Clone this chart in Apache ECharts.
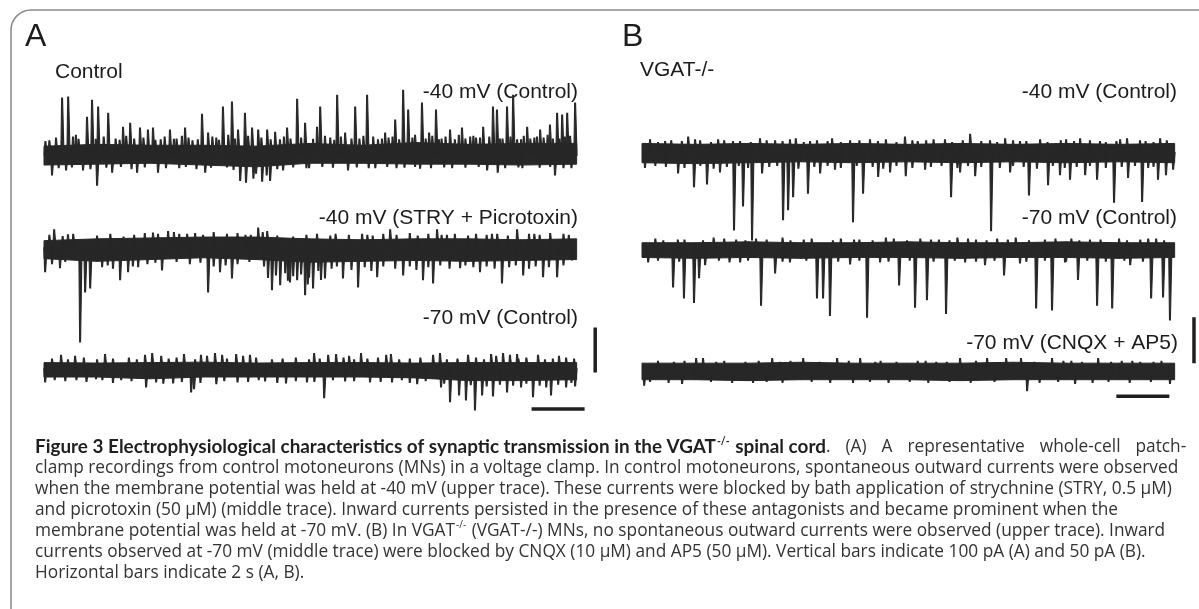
<!DOCTYPE html>
<html lang="en">
<head>
  <meta charset="utf-8">
  <title>VGAT figure 3</title>
  <script src="https://cdn.jsdelivr.net/npm/echarts@6/dist/echarts.min.js"></script>
</head>
<body style="margin: 0; background: #fff">
  <div id="container" style="width: 1199px; height: 609px"></div>
  <script type="text/javascript">
// time in s, current in pA (relative to each trace's own baseline)
var envTime = [0, 2, 4, 6, 8, 10, 12, 14, 16, 18, 20.1];

// baselines of the three traces in each panel (pA on the panel axis)
var baseA = [-167, -373, -642];
var baseB = [-79, -185, -317];

// noise band (upper / lower edge) read every 2 s
var a1Hi = [20, 24, 22, 22, 20, 26, 22, 28, 24, 26, 26];
var a1Lo = [-22, -20, -18, -22, -26, -18, -18, -20, -20, -22, -20];
var a2Hi = [16, 20, 22, 24, 24, 20, 18, 20, 20, 18, 20];
var a2Lo = [-24, -30, -26, -22, -26, -32, -30, -28, -30, -28, -26];
var a3Hi = [14, 13, 14, 15, 13, 14, 14, 13, 14, 14, 14];
var a3Lo = [-18, -18, -22, -18, -18, -18, -18, -20, -26, -26, -24];
var b1Hi = [10, 9, 10, 9, 10, 9, 10, 9, 10, 9, 10];
var b1Lo = [-11, -12, -11, -10, -11, -10, -11, -10, -11, -10, -11];
var b2Hi = [8, 8, 9, 8, 8, 9, 8, 8, 9, 8, 8];
var b2Lo = [-8, -9, -8, -9, -8, -8, -9, -8, -8, -9, -8];
var b3Hi = [9, 9, 9, 10, 9, 9, 9, 10, 9, 9, 9];
var b3Lo = [-9, -9, -10, -9, -9, -9, -10, -9, -9, -9, -9];

// synaptic events [time, peak]
var a1Spikes = [
  [0.2, 32], [0.3, -44], [0.68, 127], [0.83, -33], [0.91, 129], [1.09, 40], [1.3, 35], [1.47, -33],
  [1.62, 84], [1.81, 122], [2.0, -67], [2.04, 107], [2.42, 93], [2.57, -38], [2.7, 36], [2.98, 62],
  [3.25, 71], [3.51, -38], [3.62, 60], [3.92, 56], [4.11, 60], [4.3, -38], [4.4, 34], [4.75, 56],
  [5.0, 36], [5.1, -28], [5.32, 60], [5.6, 32], [5.96, 91], [6.08, -38], [6.19, 49], [6.5, 38],
  [6.75, 107], [7.09, 118], [7.32, 56], [7.4, -56], [7.58, 93], [7.62, -60], [7.85, 60], [7.9, -51],
  [8.08, 56], [8.23, -58], [8.42, 56], [8.53, -56], [8.72, 51], [8.9, 34], [9.02, -33], [9.17, 60],
  [9.3, 36], [9.55, 124], [9.85, 71], [10.0, -28], [10.3, 62], [10.42, 107], [10.8, 38], [11.06, 133],
  [11.36, 49], [11.47, -33], [11.6, 36], [11.74, 107], [12.19, 133], [12.25, -28], [12.42, 40], [12.6, 34],
  [12.87, 49], [13.0, 38], [13.25, 78], [13.3, -28], [13.55, 144], [13.74, 100], [14.0, 44], [14.19, -29],
  [14.26, 116], [14.53, 49], [14.79, 100], [15.0, 36], [15.32, 56], [15.4, -28], [15.5, 34], [15.77, 60],
  [16.08, 40], [16.3, 38], [16.57, 62], [16.72, -33], [16.94, 107], [17.09, 100], [17.12, -38], [17.3, 36],
  [17.47, 107], [17.7, 133], [18.0, 34], [18.05, -28], [18.23, 62], [18.5, 38], [18.72, 56], [19.09, 67],
  [19.2, 36], [19.28, -44], [19.36, 93], [19.55, 89], [19.74, 93], [19.9, -28], [20.04, 116]
];
var a1Minor = [
  [0.05, 30], [0.45, 38], [1.2, 44], [1.95, 35], [2.25, 40], [2.85, 33], [3.1, 42], [3.4, 36],
  [3.75, 38], [4.2, 33], [4.55, 40], [4.9, 35], [5.2, 42], [5.45, 38], [5.8, 34], [6.35, 40],
  [6.6, 33], [6.95, 44], [7.2, 36], [7.7, 42], [8.2, 38], [8.55, 34], [9.05, 40], [9.7, 38],
  [10.15, 35], [10.6, 42], [10.95, 33], [11.2, 40], [11.9, 36], [12.05, 42], [12.75, 36], [13.15, 40],
  [13.4, 34], [13.9, 38], [14.4, 36], [14.65, 42], [14.9, 34], [15.15, 40], [15.65, 44], [15.9, 36],
  [16.2, 42], [16.45, 38], [16.8, 40], [17.2, 36], [17.6, 40], [17.85, 34], [18.1, 42], [18.35, 36],
  [18.6, 40], [18.85, 38], [19.0, 44], [19.45, 36], [19.65, 40], [19.85, 42],
  [0.55, -28], [1.05, -26], [1.75, -30], [2.35, -27], [2.9, -25], [3.3, -30], [3.8, -26], [4.6, -28],
  [5.35, -25], [5.75, -30], [6.3, -27], [6.9, -26], [7.15, -32], [8.0, -40], [8.4, -44], [8.8, -30],
  [9.4, -26], [9.9, -28], [10.5, -25], [10.9, -27], [11.8, -26], [12.5, -28], [12.95, -25], [13.6, -27],
  [14.0, -25], [14.6, -28], [15.1, -26], [15.9, -27], [16.4, -25], [17.4, -28], [17.9, -26], [18.7, -27],
  [19.1, -25], [19.6, -28]
];
var a2Spikes = [
  [0.04, -53], [0.38, 40], [0.6, -44], [0.9, 29], [1.36, -209], [1.55, -98], [1.74, -89], [2.19, -42],
  [2.87, -71], [3.17, -53], [3.55, -42], [4.11, 33], [4.45, -49], [4.68, 36], [5.4, 30], [6.19, -98],
  [6.64, -53], [7.09, -67], [7.6, 28], [8.08, 44], [8.42, 36], [8.6, -93], [8.91, -82], [9.28, -76],
  [9.55, -71], [9.85, -104], [10.15, -89], [10.6, -67], [11.0, 30], [11.28, -67], [11.85, -87], [12.2, 28],
  [12.57, -64], [13.06, 40], [13.55, -60], [14.3, -71], [14.68, -78], [14.83, 40], [15.2, 28], [15.7, -44],
  [16.45, -53], [16.9, 30], [17.28, -78], [17.85, 40], [18.08, -60], [18.5, 30], [18.83, -64], [19.36, -64],
  [19.6, 30], [19.92, -27]
];
var a2Minor = [
  [0.2, 28], [0.7, 25], [1.1, 30], [2.0, 26], [2.5, 30], [3.0, 24], [3.4, 28], [3.8, 32],
  [4.3, 30], [4.9, 34], [5.1, 30], [5.7, 32], [6.0, 28], [6.4, 34], [6.9, 30], [7.3, 32],
  [7.8, 28], [8.25, 34], [8.8, 26], [9.4, 24], [9.9, 28], [10.3, 30], [10.8, 26], [11.5, 28],
  [12.0, 30], [12.4, 26], [12.8, 30], [13.3, 28], [13.8, 32], [14.1, 26], [14.5, 30], [15.0, 28],
  [15.5, 30], [16.0, 26], [16.3, 30], [16.7, 28], [17.1, 30], [17.5, 26], [18.3, 30], [18.7, 28],
  [19.1, 32], [19.8, 28],
  [0.3, -35], [0.8, -30], [2.4, -38], [2.6, -45], [3.35, -40], [3.9, -35], [4.2, -32], [5.0, -30],
  [5.5, -35], [5.9, -32], [6.4, -40], [6.85, -38], [7.3, -35], [7.75, -30], [8.3, -40], [8.45, -66],
  [8.75, -60], [9.1, -55], [9.2, -72], [9.4, -62], [9.7, -58], [9.95, -80], [10.0, -65], [10.35, -50],
  [10.45, -70], [10.85, -45], [11.05, -40], [11.6, -48], [12.1, -42], [12.35, -50], [12.8, -40], [13.25, -45],
  [13.8, -40], [14.05, -48], [14.5, -42], [14.95, -38], [15.3, -45], [15.9, -38], [16.2, -42], [16.7, -40],
  [17.0, -45], [17.55, -42], [17.8, -38], [18.3, -45], [18.55, -40], [19.05, -42], [19.6, -38]
];
var a3Spikes = [
  [0.04, -29], [0.64, 30], [1.17, 28], [1.22, -24], [1.96, -22], [2.3, 32], [2.91, -24], [3.81, 30],
  [3.85, -40], [4.08, 34], [4.23, -29], [4.42, 28], [4.87, -31], [5.28, 32], [5.55, -51], [5.66, -44],
  [5.92, 30], [6.15, 28], [6.45, 34], [6.5, -33], [6.72, 30], [7.25, 32], [7.3, -29], [7.51, 28],
  [7.77, 30], [8.34, -27], [9.13, -31], [9.92, -29], [10.19, 34], [10.57, -64], [10.72, 30], [11.02, 32],
  [11.36, -27], [11.51, 28], [11.96, 34], [12.3, -29], [12.91, 30], [13.09, 32], [13.13, -29], [14.08, -33],
  [14.68, 30], [14.94, 34], [14.98, -40], [15.32, -73], [15.66, -58], [15.92, -69], [16.0, 30], [16.26, -91],
  [16.53, -58], [16.87, 32], [16.94, -60], [17.06, 28], [17.32, 34], [17.47, -51], [17.58, 30], [17.85, 32],
  [18.0, -40], [18.45, -62], [18.64, 30], [19.13, -58], [19.43, 28], [19.7, -40], [20.04, -38]
];
var a3Minor = [
  [0.3, 22], [0.9, 20], [1.5, 24], [2.0, 20], [2.6, 22], [3.2, 24], [3.5, 20], [4.7, 22],
  [5.0, 24], [5.7, 20], [6.9, 22], [8.0, 24], [8.6, 20], [9.0, 22], [9.5, 24], [10.0, 20],
  [10.4, 22], [11.3, 24], [11.7, 20], [12.2, 22], [12.6, 24], [13.4, 20], [13.8, 22], [14.2, 24],
  [15.2, 20], [15.6, 22], [16.3, 24], [16.6, 20], [17.9, 22], [18.2, 24], [18.9, 20], [19.2, 22],
  [19.7, 24], [20.0, 22],
  [0.4, -24], [0.8, -26], [1.6, -28], [2.2, -24], [2.6, -30], [3.3, -26], [4.5, -32], [5.2, -28],
  [5.9, -30], [6.8, -26], [7.7, -28], [8.1, -24], [8.8, -30], [9.5, -26], [10.2, -28], [10.9, -24],
  [11.7, -26], [12.7, -28], [13.5, -24], [13.8, -30], [14.4, -26], [15.1, -32], [16.1, -35], [16.7, -38],
  [17.2, -34], [17.7, -36], [18.2, -32], [18.7, -36], [18.95, -40], [19.4, -34], [19.9, -30]
];
var b1Spikes = [
  [0.11, -16], [0.3, 14], [0.87, 12], [1.36, -22], [1.74, 17], [1.96, -37], [2.19, 13], [2.45, -34],
  [2.87, 14], [2.94, -21], [3.43, 12], [3.47, -84], [3.81, -58], [4.15, -95], [4.45, 15], [4.53, -22],
  [5.02, 13], [5.32, -73], [5.51, -62], [5.58, 14], [5.7, -48], [6.26, -44], [6.34, 12], [6.72, -22],
  [7.17, 15], [7.28, -18], [7.85, 13], [7.96, -75], [8.34, -44], [8.6, 14], [8.91, -26], [9.36, -21],
  [9.92, 17], [9.95, -25], [10.68, -18], [10.72, 13], [11.43, 14], [11.66, -48], [12.0, -21], [12.38, 20],
  [12.57, -25], [13.13, 13], [13.17, -85], [13.7, 15], [13.89, -21], [14.26, 12], [14.6, -46], [15.02, 14],
  [15.32, -35], [15.77, -24], [15.8, 13], [16.15, -29], [16.53, 15], [16.72, -24], [17.17, -29], [17.28, 12],
  [17.81, -54], [18.04, 14], [18.34, -27], [18.79, 13], [18.87, -53], [19.47, -29], [19.55, 15], [19.77, -24],
  [20.04, -18]
];
var b1Minor = [
  [0.6, 11], [1.1, 13], [1.5, 12], [2.0, 14], [2.6, 11], [3.1, 13], [3.7, 12], [4.1, 11],
  [4.7, 13], [5.3, 12], [5.8, 15], [6.1, 11], [6.6, 13], [7.0, 12], [7.5, 11], [8.2, 13],
  [8.9, 12], [9.2, 14], [9.6, 11], [10.2, 13], [10.4, 12], [11.0, 14], [11.7, 11], [12.1, 13],
  [12.8, 12], [13.4, 11], [14.0, 13], [14.5, 12], [15.3, 11], [16.0, 14], [16.3, 12], [16.9, 13],
  [17.5, 11], [17.9, 12], [18.3, 15], [19.0, 12], [19.3, 11], [19.8, 13],
  [0.5, -14], [0.9, -15], [1.6, -16], [2.2, -14], [2.7, -17], [3.2, -15], [3.65, -14], [4.0, -16],
  [4.8, -15], [5.1, -14], [5.9, -17], [6.5, -15], [7.0, -14], [7.5, -16], [8.1, -14], [8.7, -15],
  [9.1, -17], [9.6, -14], [10.2, -16], [10.9, -15], [11.3, -14], [11.9, -16], [12.3, -14], [12.8, -15],
  [13.5, -16], [14.0, -14], [14.4, -15], [14.9, -17], [15.5, -14], [15.95, -16], [16.4, -15], [16.9, -14],
  [17.5, -16], [18.1, -15], [18.6, -14], [19.1, -16], [19.3, -15]
];
var b2Spikes = [
  [0.23, -13], [0.5, 12], [1.17, -40], [1.35, 11], [1.58, -52], [1.96, -57], [2.15, -30], [2.38, -16],
  [2.7, 13], [3.55, 11], [3.7, -13], [4.3, 12], [4.49, -60], [5.02, -25], [5.3, 13], [5.58, -13],
  [6.1, 11], [6.6, -52], [6.83, -52], [7.09, -71], [7.5, 12], [7.85, -15], [8.2, 11], [8.49, -73],
  [8.98, -13], [9.2, 13], [9.7, -38], [10.3, -62], [10.5, 12], [10.75, -54], [11.2, 11], [11.47, -69],
  [11.9, 13], [12.19, -13], [12.6, 11], [12.94, -16], [13.4, 12], [13.66, -27], [14.1, 13], [14.26, -14],
  [14.87, -63], [15.2, 11], [15.47, -65], [15.96, -13], [16.2, 12], [16.45, -32], [16.9, 11], [17.17, -60],
  [17.74, -63], [18.0, 12], [18.42, -16], [18.8, 11], [19.21, -52], [19.4, 12], [19.66, -51], [19.92, -76]
];
var b2Minor = [
  [0.8, 10], [1.6, 11], [2.3, 10], [3.1, 12], [3.9, 10], [4.7, 11], [5.6, 10], [6.4, 12],
  [7.2, 10], [8.0, 11], [8.7, 10], [9.5, 12], [10.0, 10], [10.9, 11], [11.6, 10], [12.3, 12],
  [13.0, 10], [13.8, 11], [14.6, 10], [15.6, 12], [16.5, 10], [17.3, 11], [18.3, 10], [19.1, 12], [19.7, 10],
  [0.6, -11], [1.4, -12], [2.9, -11], [3.3, -13], [4.0, -11], [5.3, -12], [6.2, -11], [7.4, -12],
  [8.2, -11], [9.3, -12], [10.1, -11], [11.0, -12], [11.8, -11], [12.6, -12], [13.3, -11], [14.5, -12],
  [15.2, -11], [16.0, -12], [16.8, -11], [17.5, -12], [18.2, -11], [18.9, -12]
];
var b3Spikes = [
  [0.08, -15], [0.6, 11], [1.2, 10], [1.51, -13], [2.04, 14], [2.3, 14], [3.1, 11], [3.9, 10],
  [4.19, -12], [4.91, 14], [5.6, 11], [6.08, 14], [6.7, 10], [7.36, 14], [7.96, -12], [8.23, 14],
  [9.0, 11], [9.6, 10], [10.4, 11], [11.1, 10], [12.0, 14], [13.02, 14], [13.74, 14], [14.3, 14],
  [14.53, -21], [15.47, 14], [15.9, 11], [16.34, -13], [16.6, 10], [17.21, 14], [18.1, 11], [18.8, 10],
  [19.6, 11], [19.92, -13]
];
var b3Minor = [
  [0.3, -11], [1.0, -12], [2.6, -11], [3.4, -12], [4.7, -11], [5.3, -12], [6.4, -11], [7.1, -12],
  [8.6, -11], [9.3, -12], [10.1, -11], [10.8, -12], [11.6, -11], [12.4, -12], [13.3, -11], [15.0, -12],
  [15.7, -11], [17.0, -12], [17.6, -11], [18.4, -12], [19.2, -11],
  [1.6, 11], [2.8, 10], [4.4, 11], [5.2, 10], [7.8, 11], [8.8, 10], [10.7, 11], [11.5, 10],
  [12.6, 11], [14.8, 10], [16.2, 11], [17.7, 10], [18.5, 11], [19.3, 10]
];

// scale bars: 2 s horizontal, 100 pA (A) / 50 pA (B) vertical
var barATime = [18.4, 20.4];
var barACur = -731;
var barAVTime = 20.8;
var barAVCur = [-650, -550];
var barBTime = [17.9, 19.9];
var barBCur = -344;
var barBVTime = 20.83;
var barBVCur = [-308, -258];

var traceColor = '#272727';

var dom = document.getElementById('container');
var myChart = echarts.init(dom, null, { renderer: 'canvas' });

function bandSeries(axis, off, hi, lo) {
  return {
    type: 'custom',
    xAxisIndex: axis,
    yAxisIndex: axis,
    silent: true,
    data: envTime.map(function (t, i) { return [t, off + hi[i], off + lo[i]]; }),
    renderItem: function (params, api) {
      var i = params.dataIndex;
      if (i >= envTime.length - 1) return;
      var pts = [
        api.coord([envTime[i], off + hi[i]]),
        api.coord([envTime[i + 1], off + hi[i + 1]]),
        api.coord([envTime[i + 1], off + lo[i + 1]]),
        api.coord([envTime[i], off + lo[i]])
      ];
      return {
        type: 'polygon',
        shape: { points: pts },
        style: { fill: traceColor, stroke: traceColor, lineWidth: 1 }
      };
    }
  };
}

function spikeSeries(axis, off, spikes) {
  return {
    type: 'custom',
    xAxisIndex: axis,
    yAxisIndex: axis,
    silent: true,
    data: spikes,
    renderItem: function (params, api) {
      var t = api.value(0);
      var amp = api.value(1);
      var pts = [
        api.coord([t - 0.045, off]),
        api.coord([t - 0.015, off + amp]),
        api.coord([t + 0.02, off + amp]),
        api.coord([t + 0.075, off])
      ];
      return {
        type: 'polygon',
        shape: { points: pts },
        style: { fill: traceColor, stroke: traceColor, lineWidth: 1.1 }
      };
    }
  };
}

function barSeries(axis, data) {
  return {
    type: 'line',
    xAxisIndex: axis,
    yAxisIndex: axis,
    data: data,
    symbol: 'none',
    silent: true,
    lineStyle: { color: '#1e1e1e', width: 3.5, cap: 'butt' }
  };
}

var series = [
  bandSeries(0, baseA[0], a1Hi, a1Lo), spikeSeries(0, baseA[0], a1Minor.concat(a1Spikes)),
  bandSeries(0, baseA[1], a2Hi, a2Lo), spikeSeries(0, baseA[1], a2Minor.concat(a2Spikes)),
  bandSeries(0, baseA[2], a3Hi, a3Lo), spikeSeries(0, baseA[2], a3Minor.concat(a3Spikes)),
  bandSeries(1, baseB[0], b1Hi, b1Lo), spikeSeries(1, baseB[0], b1Minor.concat(b1Spikes)),
  bandSeries(1, baseB[1], b2Hi, b2Lo), spikeSeries(1, baseB[1], b2Minor.concat(b2Spikes)),
  bandSeries(1, baseB[2], b3Hi, b3Lo), spikeSeries(1, baseB[2], b3Minor.concat(b3Spikes)),
  barSeries(0, [[barATime[0], barACur], [barATime[1], barACur]]),
  barSeries(0, [[barAVTime, barAVCur[0]], [barAVTime, barAVCur[1]]]),
  barSeries(1, [[barBTime[0], barBCur], [barBTime[1], barBCur]]),
  barSeries(1, [[barBVTime, barBVCur[0]], [barBVTime, barBVCur[1]]])
];

var labelFont = '21px "Liberation Sans", Arial, sans-serif';
var capFont = '"Open Sans", "Noto Sans", sans-serif';
var capBoldFont = 'Lato, "Open Sans", sans-serif';

function label(text, x, y, align, font) {
  return {
    type: 'text',
    silent: true,
    style: {
      text: text, x: x, y: y,
      font: font || labelFont,
      fill: '#1c1c1c',
      textAlign: align, align: align,
      textVerticalAlign: 'middle', verticalAlign: 'middle'
    }
  };
}

var capRich = {
  b: { fontFamily: capBoldFont, fontSize: 18.9, fontWeight: 'bold', fill: '#1f1f1f', color: '#1f1f1f', lineHeight: 21 },
  bs: { fontFamily: capBoldFont, fontSize: 10.5, fontWeight: 'bold', fill: '#1f1f1f', color: '#1f1f1f', lineHeight: 21, verticalAlign: 'top', padding: [0, 1, 0, 1] },
  n: { fontFamily: capFont, fontSize: 17.3, fill: '#333', color: '#333', lineHeight: 21 },
  w: { fontFamily: capFont, fontSize: 17.3, fill: '#333', color: '#333', lineHeight: 21, width: 15 },
  s: { fontFamily: capFont, fontSize: 10, fill: '#333', color: '#333', lineHeight: 21, verticalAlign: 'top', padding: [0, 1, 0, 1] }
};

var captionLines = [
  '{b|Figure 3 Electrophysiological characteristics of synaptic transmission in the VGAT}{bs|-/-}{b| spinal cord}{n|.}{w| }{n|(A)}{w| }{n|A}{w| }{n|representative}{w| }{n|whole-cell}{w| }{n|patch-}',
  '{n|clamp recordings from control motoneurons (MNs) in a voltage clamp. In control motoneurons, spontaneous outward currents were observed}',
  '{n|when the membrane potential was held at -40 mV (upper trace). These currents were blocked by bath application of strychnine (STRY, 0.5 μM)}',
  '{n|and picrotoxin (50 μM) (middle trace). Inward currents persisted in the presence of these antagonists and became prominent when the}',
  '{n|membrane potential was held at -70 mV. (B) In VGAT}{s|-/-}{n| (VGAT-/-) MNs, no spontaneous outward currents were observed (upper trace). Inward}',
  '{n|currents observed at -70 mV (middle trace) were blocked by CNQX (10 μM) and AP5 (50 μM). Vertical bars indicate 100 pA (A) and 50 pA (B).}',
  '{n|Horizontal bars indicate 2 s (A, B).}'
];

var graphics = [
  {
    type: 'rect',
    silent: true,
    shape: { x: 11, y: 10, width: 1400, height: 800, r: [20, 0, 0, 0] },
    style: { fill: 'none', stroke: '#8a8a8a', lineWidth: 1.5 }
  },
  label('A', 25, 37, 'left', '32px "Liberation Sans", Arial, sans-serif'),
  label('B', 622, 37, 'left', '32px "Liberation Sans", Arial, sans-serif'),
  label('Control', 55, 72, 'left'),
  label('VGAT-/-', 640, 70, 'left'),
  label('-40 mV (Control)', 578, 92, 'right'),
  label('-40 mV (STRY + Picrotoxin)', 578, 218, 'right'),
  label('-70 mV (Control)', 578, 318, 'right'),
  label('-40 mV (Control)', 1177, 92, 'right'),
  label('-70 mV (Control)', 1177, 218, 'right'),
  label('-70 mV (CNQX + AP5)', 1178, 343, 'right')
];

captionLines.forEach(function (line, i) {
  graphics.push({
    type: 'text',
    silent: true,
    style: {
      text: line, x: 35, y: 447 + i * 21,
      rich: capRich,
      textAlign: 'left', align: 'left',
      textVerticalAlign: 'middle', verticalAlign: 'middle'
    }
  });
});

var option = {
  animation: false,
  backgroundColor: '#ffffff',
  grid: [
    { left: 44, top: 80, width: 556.5, height: 342 },
    { left: 642, top: 80, width: 556.5, height: 342 }
  ],
  xAxis: [
    { type: 'value', gridIndex: 0, min: 0, max: 21, show: false },
    { type: 'value', gridIndex: 1, min: 0, max: 21, show: false }
  ],
  yAxis: [
    { type: 'value', gridIndex: 0, min: -760, max: 0, show: false },
    { type: 'value', gridIndex: 1, min: -372, max: 0, show: false }
  ],
  series: series,
  graphic: graphics
};

myChart.setOption(option);
window.addEventListener('resize', myChart.resize);
  </script>
</body>
</html>
